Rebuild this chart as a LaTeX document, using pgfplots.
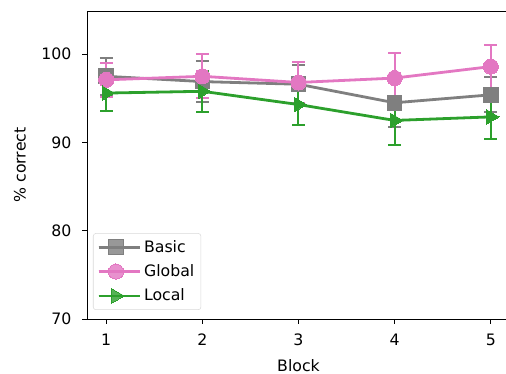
\documentclass[border=0pt]{standalone}
\usepackage{pgfplots}
\pgfplotsset{compat=1.18}
\usepackage{fontspec}
\setmainfont{DejaVu Sans}
\definecolor{cgray}{HTML}{7F7F7F}
\definecolor{cpink}{HTML}{E377C2}
\definecolor{cgreen}{HTML}{2CA02C}
\begin{document}
\fontsize{11.8}{13}\selectfont
\begin{tikzpicture}
\begin{axis}[
  scale only axis, width=317.25pt, height=231pt,
  xmin=0.8, xmax=5.2, ymin=70, ymax=104.9,
  xtick={1,2,3,4,5}, ytick={70,80,90,100},
  tick align=outside, tick pos=left, major tick length=3.6pt,
  every tick/.style={black, line width=0.6pt},
  axis line style={line width=0.6pt},
  /pgf/number format/assume math mode=true,
  tick label style={font=\fontsize{11.8}{13}\selectfont},
  xticklabel style={yshift=-3.5pt},
  yticklabel style={xshift=-4pt},
  label style={font=\fontsize{11.8}{13}\selectfont},
  xlabel={Block}, ylabel={\% correct},
  xlabel style={yshift=-2.2pt},
  ylabel style={yshift=3.5pt},
  legend style={at={(0,0)}, anchor=south west, xshift=4.5pt, yshift=6.75pt,
    draw=black!15, rounded corners=2pt, fill=white, fill opacity=0.8, text opacity=1,
    font=\fontsize{11.8}{13}\selectfont, row sep=3.5pt, inner sep=3pt},
  legend cell align=left,
  legend image code/.code={%
    \path (0pt,0pt) -- (31pt,0pt);
    \draw[mark repeat=2,mark phase=2] plot coordinates {(0pt,0pt) (13pt,0pt) (26pt,0pt)};},
]
\coordinate (bl) at (rel axis cs:0,0);
\coordinate (tr) at (rel axis cs:1,1);
\addplot[color=cgray, line width=2.1pt, mark=square*, mark size=5.5pt,
  mark options={solid, fill=cgray, draw=cgray, line width=0pt},
  error bars/.cd, y dir=both, y explicit,
  error bar style={line width=1.5pt, cgray},
  error mark options={rotate=90, mark size=4.8pt, line width=1.5pt, cgray}]
  table[x=x, y=y, y error=e] {
x y e
1 97.5 2.1
2 96.9 2.3
3 96.6 2.2
4 94.5 2.8
5 95.4 2.0
};
\addlegendentry{Basic}
\addplot[color=cpink, line width=2.1pt, mark=*, mark size=5.7pt,
  mark options={solid, fill=cpink, draw=cpink, line width=0pt},
  error bars/.cd, y dir=both, y explicit,
  error bar style={line width=1.5pt, cpink},
  error mark options={rotate=90, mark size=4.8pt, line width=1.5pt, cpink}]
  table[x=x, y=y, y error=e] {
x y e
1 97.1 1.9
2 97.5 2.5
3 96.8 2.3
4 97.3 2.8
5 98.6 2.5
};
\addlegendentry{Global}
\addplot[color=cgreen, line width=2.1pt, mark=triangle*, mark size=6.2pt,
  mark options={solid, rotate=-90, fill=cgreen, draw=cgreen, line width=0pt},
  error bars/.cd, y dir=both, y explicit,
  error bar style={line width=1.5pt, cgreen},
  error mark options={rotate=90, mark size=4.8pt, line width=1.5pt, cgreen}]
  table[x=x, y=y, y error=e] {
x y e
1 95.6 2.0
2 95.8 2.35
3 94.3 2.3
4 92.5 2.8
5 92.9 2.45
};
\addlegendentry{Local}
\end{axis}
\pgfresetboundingbox
\path ([xshift=-65.25pt,yshift=-41.25pt]bl) rectangle ([xshift=-3pt,yshift=8.25pt]tr);
\end{tikzpicture}
\end{document}
